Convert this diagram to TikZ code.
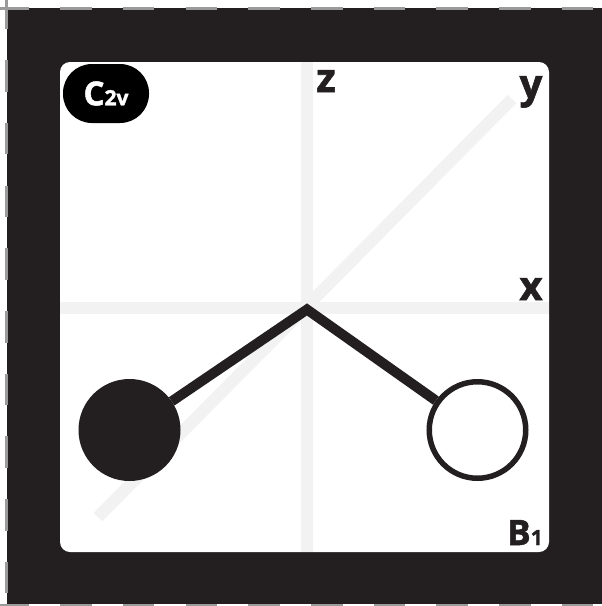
\documentclass[tikz,border=0pt]{standalone}
\usepackage{fontspec}
\setmainfont{Open Sans}[BoldFeatures={FakeBold=1.5}]
\usetikzlibrary{positioning}
\definecolor{inkdark}{HTML}{231F20}
\definecolor{axisgray}{HTML}{F2F2F2}
\definecolor{cropgray}{HTML}{9A9A9A}
\tikzset{
    cropline/.style={draw=cropgray, line width=3pt, dash pattern=on 31.5pt off 31.2pt, dash phase=2.5pt},
    axisline/.style={draw=axisgray, line width=12pt},
    bond/.style={draw=inkdark, line width=10pt, miter limit=10},
    filledatom/.style={circle, minimum size=102pt, inner sep=0pt, outer sep=0pt, fill=inkdark},
    openatom/.style={circle, minimum size=96.5pt, inner sep=0pt, line width=5.5pt, draw=inkdark, fill=white},
    axislabel/.style={anchor=base, inner sep=0pt, text=inkdark, font=\fontsize{40}{40}\selectfont\bfseries},
    tag/.style={rectangle, rounded corners=29pt, minimum width=86pt, minimum height=59pt, inner sep=0pt, fill=black, text=white}
}
\newcommand{\subtext}[1]{{\fontsize{21}{21}\selectfont #1}}
\begin{document}
\begin{tikzpicture}[x=1pt, y=-1pt]
    \useasboundingbox (0,0) rectangle (602,606);
    \fill [inkdark] (6.5,7.5) rectangle (602,604);
    \draw [cropline] (0,8) -- (602,8);
    \draw [cropline] (6,0) -- (6,606);
    \draw [cropline] (0,605) -- (602,605);
    \fill [white, rounded corners=10pt] (60,62) rectangle (549,552);

    \draw [axisline] (307,62) -- (307,552);
    \draw [axisline] (60,308) -- (549,308);
    \draw [axisline] (98,517) -- (512,99);

    \coordinate (apex) at (307,309.5);
    \node (leftAtom) [filledatom, below left=120.5pt and 177.5pt of apex, anchor=center] {};
    \node (rightAtom) [openatom, below right=120.5pt and 170.5pt of apex, anchor=center] {};
    \draw [bond] (leftAtom) -- (apex) -- (rightAtom);

    \node (zLabel) [axislabel] at (326,92) {z};
    \node (yLabel) [axislabel] at (531,98) {y};
    \node (xLabel) [axislabel] at (531,300) {x};
    \node (groupTag) [tag] at (106,93.5) {\fontsize{33}{33}\selectfont\bfseries C\subtext{2v}};
    \node (symLabel) [axislabel, font=\fontsize{35}{35}\selectfont\bfseries] at (525,545) {B\subtext{1}};
\end{tikzpicture}
\end{document}
